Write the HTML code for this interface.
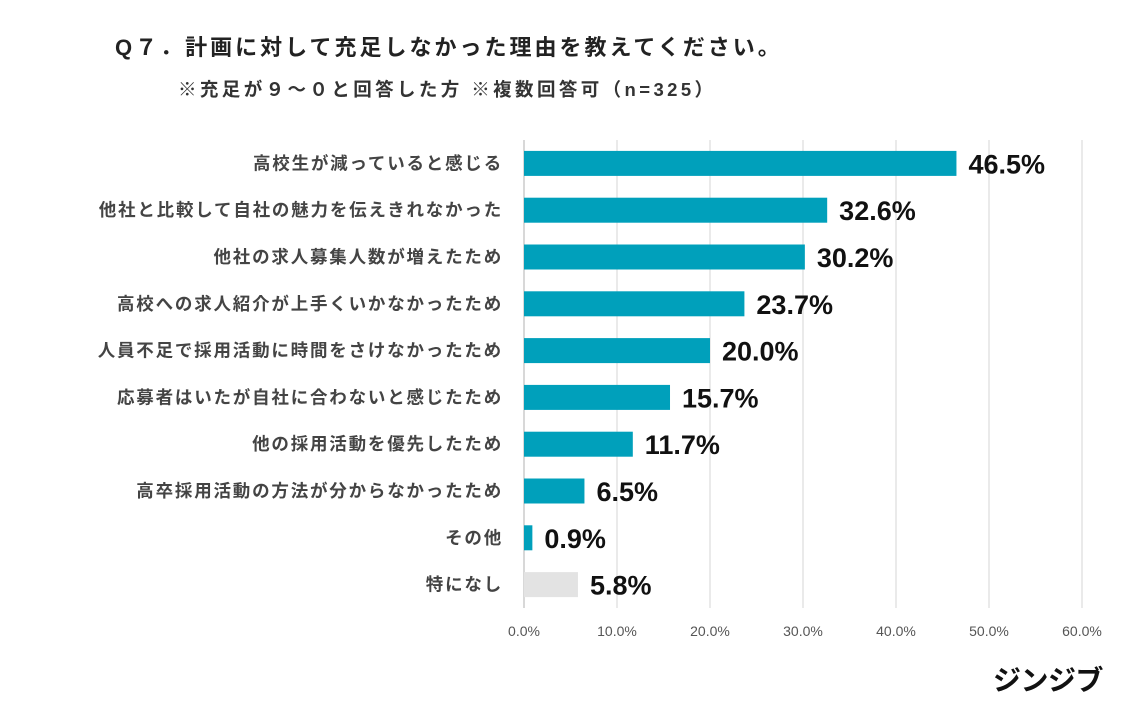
<!DOCTYPE html>
<html><head><meta charset="utf-8"><style>
body{margin:0;background:#fff;font-family:"Liberation Sans","Noto Sans CJK JP",sans-serif}
#wrap{position:relative;width:1132px;height:701px;overflow:hidden}
.t{position:absolute;font-weight:bold;color:#222;white-space:nowrap}
</style></head><body>
<div id="wrap">
<div class="t" style="left:115px;top:30px;font-size:22px;letter-spacing:3px">Q７．計画に対して充足しなかった理由を教えてください。</div>
<div class="t" style="left:178px;top:76px;font-size:18.5px;letter-spacing:3.4px;color:#333">※充足が９～０と回答した方 ※複数回答可（n=325）</div>
<svg id="chart" width="1132" height="701" style="position:absolute;left:0;top:0"></svg>
<div class="t" style="left:993px;top:659px;font-size:28px;color:#111;letter-spacing:-0.5px">ジンジブ</div>
</div>
<script>
const categories=["高校生が減っていると感じる","他社と比較して自社の魅力を伝えきれなかった","他社の求人募集人数が増えたため","高校への求人紹介が上手くいかなかったため","人員不足で採用活動に時間をさけなかったため","応募者はいたが自社に合わないと感じたため","他の採用活動を優先したため","高卒採用活動の方法が分からなかったため","その他","特になし"];
const values=[46.5,32.6,30.2,23.7,20.0,15.7,11.7,6.5,0.9,5.8];
const ticks=[0,10,20,30,40,50,60];
const ns="http://www.w3.org/2000/svg";
const svg=document.getElementById("chart");
const x0=524,pxPer=9.3,top0=140,band=46.8,bh=25;
const xs=v=>x0+v*pxPer;
const yc=i=>top0+band*i+band/2;
function mk(t,a){const e=document.createElementNS(ns,t);for(const k in a)e.setAttribute(k,a[k]);svg.appendChild(e);return e;}
ticks.forEach(t=>{
 const l=mk("line",{x1:xs(t),x2:xs(t),y1:top0,y2:top0+band*categories.length,stroke:t===0?"#ccc":"#e3e3e3","stroke-width":1.5});
 
 
 const tx=mk("text",{x:xs(t),y:636,"text-anchor":"middle","font-size":14,fill:"#555","font-family":"Liberation Sans, sans-serif"});
 tx.textContent=t.toFixed(1)+"%";
 
 
});
categories.forEach((c,i)=>{
 const y=yc(i);const v=values[i];
 const r=mk("rect",{x:x0,y:y-bh/2,width:xs(v)-x0,height:bh,fill:i===categories.length-1?"#e3e3e3":"#00a0bb"});
 
 
 const lab=mk("text",{x:503,y:y+6,"text-anchor":"end","font-size":17.5,"letter-spacing":"1.8","font-weight":"bold",fill:"#444","font-family":"Liberation Sans, Noto Sans CJK JP, sans-serif"});
 lab.textContent=c;
 
 
 const vl=mk("text",{x:xs(v)+12,y:y+10,"font-size":27,"font-weight":"bold",fill:"#111","font-family":"Liberation Sans, sans-serif","letter-spacing":"0"});
 vl.textContent=v.toFixed(1)+"%";
 
 
});
</script>
</body></html>
